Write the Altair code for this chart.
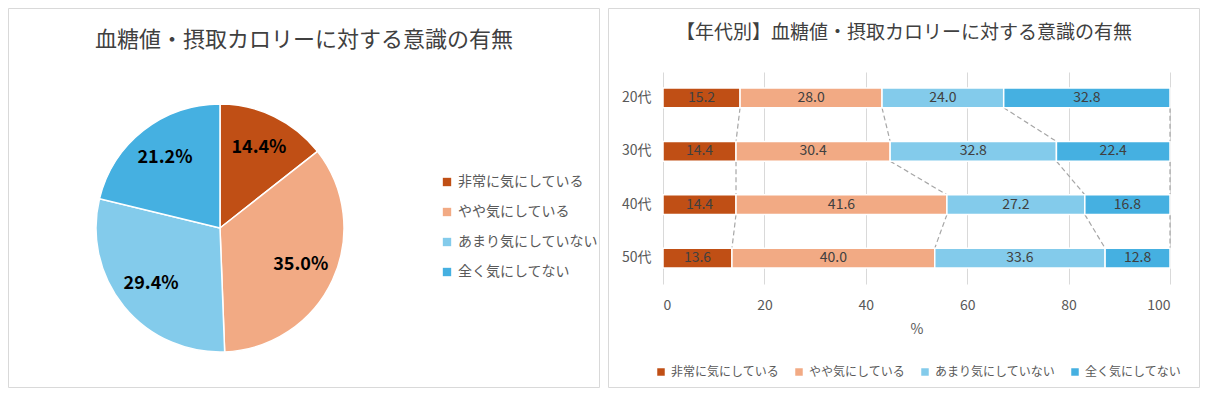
import altair as alt
import pandas as pd

FONT = "Noto Sans CJK JP"

title_left = "血糖値・摂取カロリーに対する意識の有無"
title_right = "【年代別】血糖値・摂取カロリーに対する意識の有無"

categories = ["非常に気にしている", "やや気にしている", "あまり気にしていない", "全く気にしてない"]
colors = ["#C04F15", "#F2AA84", "#83CBEB", "#45B0E1"]

pie_values = [14.4, 35.0, 29.4, 21.2]

ages = ["20代", "30代", "40代", "50代"]
very = [15.2, 14.4, 14.4, 13.6]
somewhat = [28.0, 30.4, 41.6, 40.0]
notmuch = [24.0, 32.8, 27.2, 33.6]
notatall = [32.8, 22.4, 16.8, 12.8]

x_ticks = [0, 20, 40, 60, 80, 100]

# ---------- data tables ----------
pie_df = pd.DataFrame({"cat": categories, "value": pie_values, "order": list(range(4))})
pie_df["label"] = pie_df["value"].map(lambda v: f"{v:.1f}%")

series = [very, somewhat, notmuch, notatall]
rows = []
ends = {}
for i, age in enumerate(ages):
    start = 0.0
    for k, cat in enumerate(categories):
        v = series[k][i]
        rows.append(dict(age=age, cat=cat, value=v, order=k,
                         start=start, end=start + v, mid=start + v / 2))
        start += v
        ends[(i, k)] = start
bar_df = pd.DataFrame(rows)

conn_rows = []
for i in range(len(ages) - 1):
    for k in range(len(categories)):
        conn_rows.append(dict(age=ages[i], next_age=ages[i + 1],
                              x1=ends[(i, k)], x2=ends[(i + 1, k)]))
conn_df = pd.DataFrame(conn_rows)

one = pd.DataFrame({"a": [1]})

# shared frame geometry (relative to each panel's view origin)
TOP, BOTTOM = -64, 316
PW, PH = 507, 212

# ---------- left panel (pie) ----------
LW = 592
CX, CY, R = 212, 156, 124

color_left = alt.Color(
    "cat:N", scale=alt.Scale(domain=categories, range=colors), sort=categories,
    legend=alt.Legend(orient="none", legendX=432, legendY=103, title=None,
                      symbolType="square", symbolSize=70, symbolStrokeWidth=0,
                      labelFontSize=14, labelColor="#595959", rowPadding=16,
                      labelOffset=4))

pie = alt.Chart(pie_df).mark_arc(outerRadius=R, stroke="white", strokeWidth=1.5).encode(
    theta=alt.Theta("value:Q", stack=True),
    color=color_left,
    order=alt.Order("order:Q"),
    x=alt.value(CX), y=alt.value(CY),
)
pie_text = alt.Chart(pie_df).mark_text(radius=89, fontSize=18, fontWeight="bold",
                                        color="#000000").encode(
    theta=alt.Theta("value:Q", stack=True),
    detail="cat:N",
    order=alt.Order("order:Q"),
    text="label:N",
    x=alt.value(CX), y=alt.value(CY),
)
left_frame = alt.Chart(one).mark_rect(fillOpacity=0, stroke="#d9d9d9", strokeWidth=1).encode(
    x=alt.value(0.5), x2=alt.value(LW - 0.5), y=alt.value(TOP + 0.5), y2=alt.value(BOTTOM - 0.5))
left_title = alt.Chart(one).mark_text(fontSize=22, color="#404040", align="center",
                                       baseline="middle").encode(
    x=alt.value(LW / 2), y=alt.value(-32), text=alt.value(title_left))

left = alt.layer(left_frame, pie, pie_text, left_title).properties(width=LW, height=PH)

# ---------- right panel (stacked bars) ----------
xs = alt.Scale(domain=[0, 100], nice=False)
ys = alt.Scale(domain=ages, paddingInner=0.63, paddingOuter=0.3)
x_axis = alt.Axis(values=x_ticks, title="%", grid=True, gridColor="#d9d9d9", ticks=False,
                  domain=False, labelPadding=14, labelFontSize=14, labelColor="#595959",
                  titleFontSize=14, titleFontWeight="normal", titleColor="#595959",
                  titlePadding=10)
y_axis = alt.Axis(title=None, ticks=False, domain=False, labelPadding=12, labelFontSize=14,
                  labelColor="#595959", grid=False)

color_right = alt.Color(
    "cat:N", scale=alt.Scale(domain=categories, range=colors), sort=categories,
    legend=alt.Legend(orient="none", direction="horizontal", legendX=-8, legendY=294,
                      title=None, symbolType="square", symbolSize=56, symbolStrokeWidth=0,
                      labelFontSize=12, labelColor="#595959", columnPadding=13,
                      labelOffset=4))

conn = alt.Chart(conn_df).mark_rule(strokeDash=[5, 3], color="#a6a6a6", strokeWidth=1.2).encode(
    x=alt.X("x1:Q", scale=xs, axis=x_axis),
    x2="x2:Q",
    y=alt.Y("age:N", scale=ys, axis=y_axis, bandPosition=1),
    y2=alt.Y2("next_age:N", bandPosition=0),
)
bars = alt.Chart(bar_df).mark_bar(stroke="white", strokeWidth=1.5).encode(
    x=alt.X("start:Q", scale=xs, axis=x_axis),
    x2="end:Q",
    y=alt.Y("age:N", scale=ys, axis=y_axis),
    color=color_right,
)
bar_text = alt.Chart(bar_df).mark_text(fontSize=14, color="#404040").encode(
    x=alt.X("mid:Q", scale=xs, axis=x_axis),
    y=alt.Y("age:N", scale=ys, axis=y_axis),
    text=alt.Text("value:Q", format=".1f"),
)
right_frame = alt.Chart(one).mark_rect(fillOpacity=0, stroke="#d9d9d9", strokeWidth=1).encode(
    x=alt.value(-54.5), x2=alt.value(536.5), y=alt.value(TOP + 0.5), y2=alt.value(BOTTOM - 0.5))
right_title = alt.Chart(one).mark_text(fontSize=19, color="#404040", align="center",
                                        baseline="middle").encode(
    x=alt.value(241), y=alt.value(-39), text=alt.value(title_right))

right = alt.layer(conn, bars, bar_text, right_frame, right_title).properties(width=PW, height=PH)

chart = (
    alt.hconcat(left, right, spacing=8)
    .resolve_scale(color="independent")
    .properties(padding=0, background="white")
    .configure(font=FONT)
    .configure_view(strokeWidth=0)
)

chart.save("out.html", embed_options={"renderer": "svg", "actions": False})
